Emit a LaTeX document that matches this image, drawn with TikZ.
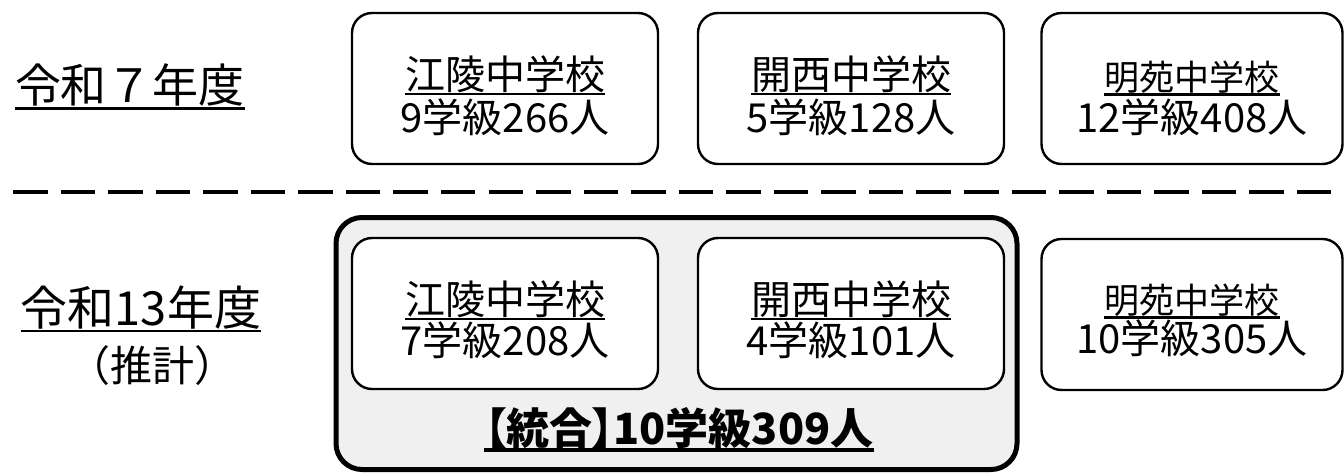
\documentclass[tikz,border=0pt]{standalone}
\usepackage{fontspec}
\setmainfont{Noto Sans CJK JP}
\newcommand{\fsz}[1]{\fontsize{#1}{#1}\selectfont}
\newcommand{\ulof}[3]{\draw[line width=#3] ([yshift=-#2]#1.base west) -- ([yshift=-#2]#1.base east);}
\begin{document}
\begin{tikzpicture}[x=1pt,y=-1pt,
  box/.style={draw=black, line width=2.4pt, rounded corners=20pt, fill=white,
    minimum width=306pt, minimum height=151pt, inner sep=0pt, outer sep=0pt},
  grp/.style={draw=black, line width=5pt, rounded corners=26pt, fill=black!6,
    minimum width=681pt, minimum height=252pt, inner sep=0pt, outer sep=0pt},
  nm/.style={font=\fsz{40}, inner sep=0pt, anchor=base},
  nms/.style={font=\fsz{35}, inner sep=0pt, anchor=base},
  cnt/.style={font=\fsz{40}, inner sep=0pt, anchor=base},
  lbl/.style={font=\fsz{46}, inner sep=0pt, anchor=base},
  sep/.style={line width=4pt, dash pattern=on 34.5pt off 13.05pt}]
\useasboundingbox (0,0) rectangle (1344,472);
% dashed separator
\coordinate (dl) at (13,191.5);
\coordinate (dr) at (1331,191.5);
\draw[sep] (dl) -- (dr);
% year labels
\node[lbl] (y7) at (130,102.5) {令和７年度};
\node[lbl, font=\fsz{47}] (y13) at (141,325) {令和13年度};
\node[lbl, font=\fsz{42}] (est) at (152,381) {（推計）};
\ulof{y7}{6pt}{2.6pt}
\ulof{y13}{6pt}{2.6pt}
% top row
\node[box] (t1) at (505,88.5) {};
\node[box] (t2) at (851,88.5) {};
\node[box, minimum width=301pt] (t3) at (1192,88.5) {};
\node[nm] (t1n) at (505,89) {江陵中学校};
\node[cnt] (t1c) at (505,132) {9学級266人};
\node[nm] (t2n) at (851,89) {開西中学校};
\node[cnt] (t2c) at (851,132) {5学級128人};
\node[nms] (t3n) at (1192,90) {明苑中学校};
\node[cnt] (t3c) at (1192,132) {12学級408人};
\ulof{t1n}{5pt}{2.6pt}
\ulof{t2n}{5pt}{2.6pt}
\ulof{t3n}{4.5pt}{2.4pt}
% bottom row
\node[grp] (g) at (676.5,343.5) {};
\node[box] (b1) at (505,313.5) {};
\node[box] (b2) at (851,313.5) {};
\node[box, minimum width=301pt] (b3) at (1192,314.5) {};
\node[nm] (b1n) at (505,314) {江陵中学校};
\node[cnt] (b1c) at (505,355) {7学級208人};
\node[nm] (b2n) at (851,314) {開西中学校};
\node[cnt] (b2c) at (851,355) {4学級101人};
\node[nms] (b3n) at (1192,313) {明苑中学校};
\node[cnt] (b3c) at (1192,353) {10学級305人};
\ulof{b1n}{5pt}{2.6pt}
\ulof{b2n}{5pt}{2.6pt}
\ulof{b3n}{4.5pt}{2.4pt}
\node[nm, font=\fsz{43}\bfseries\addfontfeatures{RawFeature=+palt}] (gt) at (679,444) {【統合】10学級309人};
\ulof{gt}{6pt}{3.4pt}
\end{tikzpicture}
\end{document}
